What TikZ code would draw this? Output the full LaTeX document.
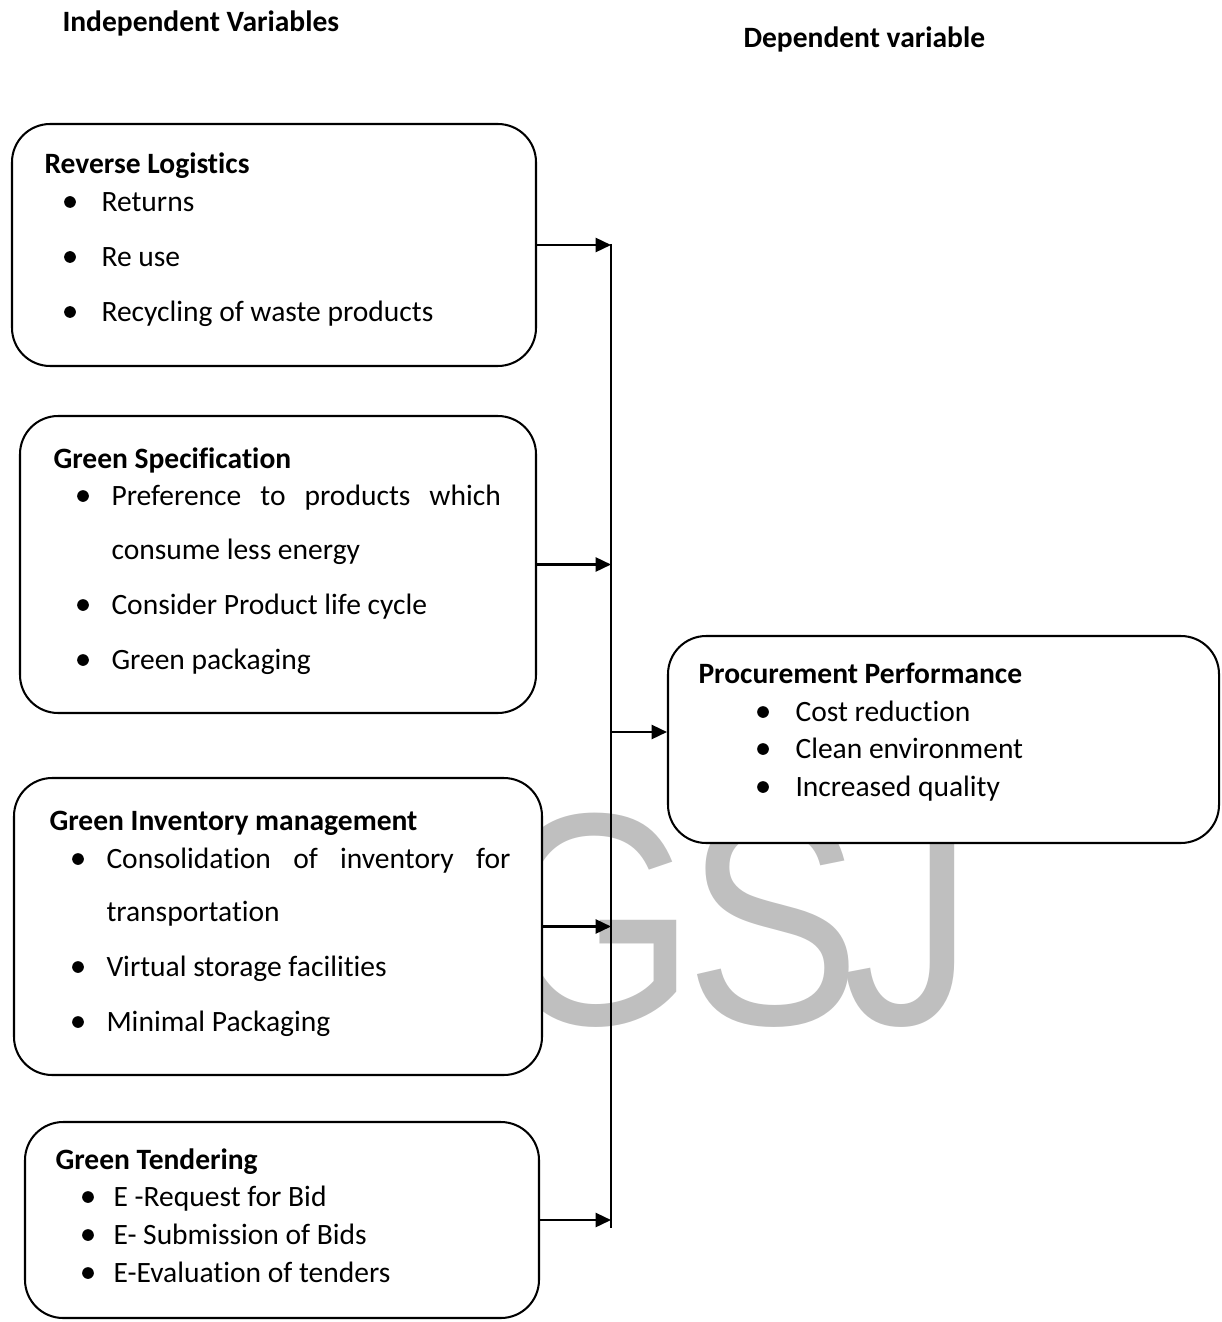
\documentclass[tikz,border=0pt]{standalone}
\usepackage{fontspec}
\setmainfont[Ligatures={NoCommon,NoContextual}]{Carlito}
\newfontfamily\wmfont{Liberation Sans}
\usetikzlibrary{arrows.meta,fit}
\newcommand\txt{\fontsize{11.6}{13.5}\selectfont}

\tikzset{
  box/.style={draw, line width=0.8pt, rounded corners=15pt, fill=white, inner sep=0pt},
  head/.style={anchor=west, inner sep=0pt, font=\txt\bfseries, text height=7.4pt, text depth=0pt},
  item/.style={anchor=west, inner sep=0pt, font=\txt, text height=7.4pt, text depth=0pt},
  dot/.style={circle, fill, inner sep=0pt, minimum size=4.6pt},
  arr/.style={line width=0.9pt, -{Triangle[length=6pt,width=5.5pt]}},
  bus/.style={line width=0.7pt},
  wmark/.style={text=black!25, font=\wmfont\fontsize{119}{119}\selectfont, xscale=0.87, inner sep=0pt, anchor=base}
}

\begin{document}
\begin{tikzpicture}[x=0.393pt, y=-0.393pt]
  \useasboundingbox (0,0) rectangle (1221,1322);

  % watermark
  \foreach \x/\l in {594/G, 773/S, 908/J}
    \node[wmark] (wm\l) at (\x,1024) {\l};

  % headings
  \node[head] (iv) at (62,22) {Independent Variables};
  \node[head] (dv) at (743,38) {Dependent variable};

  % reverse logistics
  \node[box, fit={(12,124) (536,366)}] (rl) {};
  \node[head] (rlh) at (44,164) {Reverse Logistics};
  \foreach \y/\t in {202/Returns, 257/Re use, 312/Recycling of waste products}{
    \node[dot] at (70,\y) {};
    \node[item] at (101,\y) {\t};
  }

  % green specification
  \node[box, fit={(20,416) (536,713)}] (gs) {};
  \node[head] (gsh) at (53,459) {Green Specification};
  \foreach \y in {496,605,660} \node[dot] at (83,\y) {};
  \foreach \y/\t in {496/{\makebox[153pt][s]{Preference to products which}}, 550/consume less energy,
                     605/Consider Product life cycle, 660/Green packaging}
    \node[item] at (111,\y) {\t};

  % green inventory
  \node[box, fit={(14,778) (542,1075)}] (gi) {};
  \node[head] (gih) at (49,821) {Green Inventory management};
  \foreach \y in {859,967,1022} \node[dot] at (78,\y) {};
  \foreach \y/\t in {859/{\makebox[158.8pt][s]{Consolidation of inventory for}}, 912/transportation,
                     967/Virtual storage facilities, 1022/Minimal Packaging}
    \node[item] at (106,\y) {\t};

  % green tendering
  \node[box, fit={(25,1122) (539,1318)}] (gt) {};
  \node[head] (gth) at (55,1160) {Green Tendering};
  \foreach \y/\t in {1197/E -Request for Bid, 1235/E- Submission of Bids, 1273/E-Evaluation of tenders}{
    \node[dot] at (88,\y) {};
    \node[item] at (113,\y) {\t};
  }

  % procurement performance
  \node[box, fit={(668,636) (1219,843)}] (pp) {};
  \node[head] (pph) at (698,674) {Procurement Performance};
  \foreach \y/\t in {712/Cost reduction, 749/Clean environment, 787/Increased quality}{
    \node[dot] at (763,\y) {};
    \node[item] at (795,\y) {\t};
  }

  % connectors
  \coordinate (bustop) at (611,244);
  \coordinate (busbot) at (611,1228);
  \coordinate (busmid) at (611,732);
  \draw[bus] (bustop) -- (busbot);
  \foreach \n in {rl,gs,gi,gt}
    \draw[arr] (\n.east) -- (\n.east -| bustop);
  \draw[arr] (busmid) -- (busmid -| pp.west);
\end{tikzpicture}
\end{document}
